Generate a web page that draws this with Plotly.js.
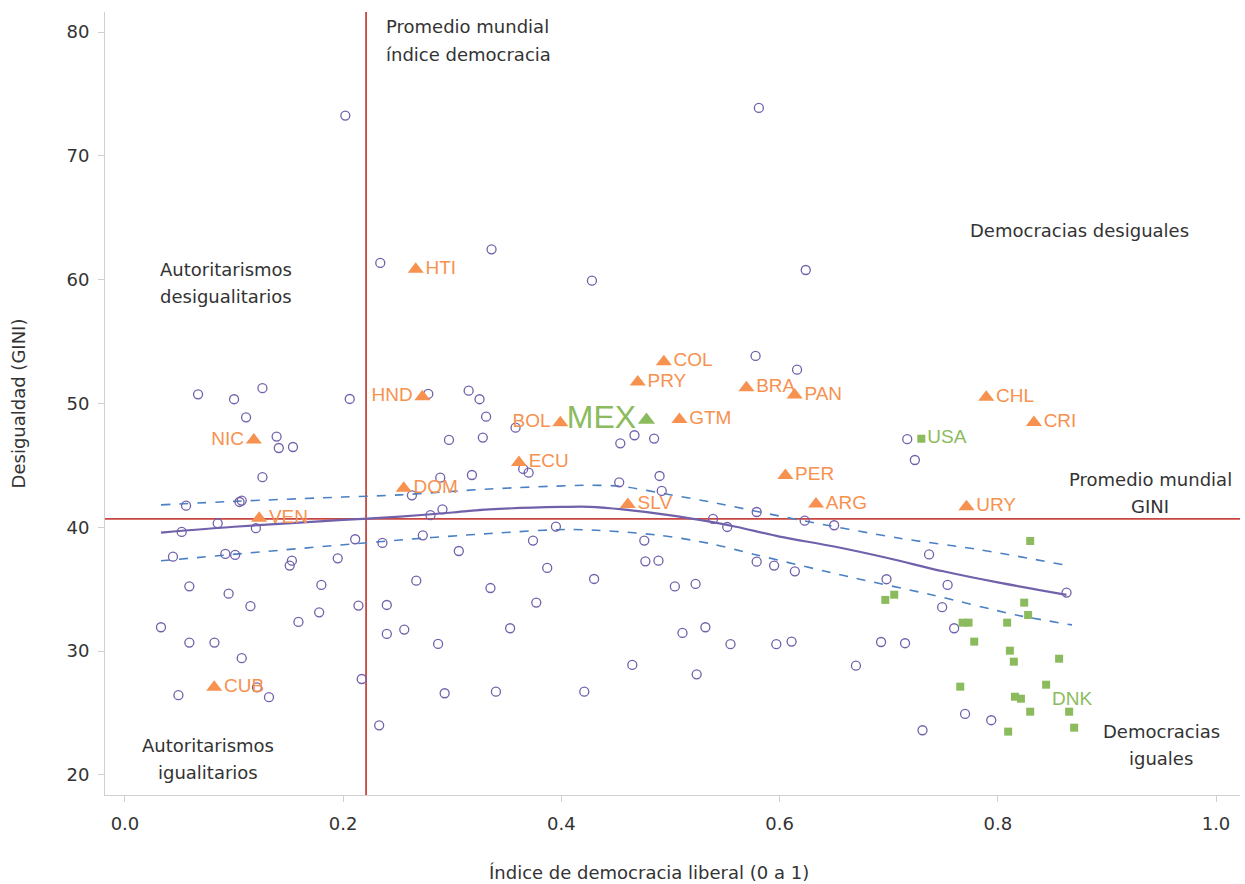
<!DOCTYPE html>
<html>
<head>
<meta charset="utf-8">
<script src="https://cdn.plot.ly/plotly-3.0.1.min.js"></script>
<style>html,body{margin:0;padding:0;background:#fff;}#chart{width:1245px;height:884px;}</style>
</head>
<body>
<div id="chart"></div>
<script>
// ---- Data: rest of the world (open circles) ----
const worldX = [0.067,0.100,0.126,0.206,0.111,0.139,0.141,0.154,0.126,0.056,0.105,0.107,0.085,0.052,0.120,0.044,0.092,0.101,0.211,0.236,0.153,0.151,0.195,0.059,0.095,0.180,0.115,0.178,0.214,0.240,0.159,0.033,0.059,0.082,0.240,0.107,0.217,0.121,0.132,0.049,0.233,
0.278,0.315,0.325,0.331,0.297,0.328,0.358,0.365,0.370,0.289,0.318,0.263,0.291,0.280,0.395,0.273,0.374,0.306,0.476,0.477,0.489,0.387,0.267,0.335,0.430,0.377,0.504,0.523,0.256,0.353,0.287,0.511,0.532,0.465,0.524,0.293,0.340,0.421,
0.202,0.234,0.336,0.428,0.581,0.624,
0.454,0.467,0.485,0.453,0.490,0.492,0.578,0.616,0.717,0.724,0.579,0.539,0.552,0.623,0.650,0.737,0.579,0.595,0.614,0.698,0.754,0.863,0.749,0.760,0.555,0.597,0.611,0.693,0.715,0.670,0.770,0.794,0.731];
const worldY = [50.75,50.35,51.24,50.37,48.89,47.33,46.41,46.49,44.05,41.75,42.05,42.16,40.33,39.63,39.93,37.63,37.85,37.77,39.04,38.74,37.31,36.91,37.50,35.24,34.64,35.35,33.63,33.14,33.68,33.73,32.36,31.93,30.69,30.69,31.39,29.43,27.75,27.08,26.28,26.44,24.01,
50.78,51.04,50.35,48.94,47.06,47.25,48.05,44.72,44.42,44.01,44.23,42.59,41.46,40.98,40.06,39.36,38.93,38.09,38.93,37.26,37.31,36.72,35.69,35.10,35.83,33.92,35.23,35.43,31.74,31.85,30.58,31.47,31.93,28.89,28.13,26.60,26.73,26.73,
73.26,61.36,62.46,59.93,73.88,60.79,
46.79,47.44,47.17,43.64,44.15,42.94,53.85,52.74,47.12,45.44,41.24,40.68,40.03,40.54,40.17,37.81,37.23,36.91,36.45,35.81,35.35,34.73,33.55,31.85,30.56,30.56,30.77,30.74,30.64,28.83,24.93,24.42,23.61];

// ---- Latin America (orange triangles) ----
const latCodes = ["HTI","HND","NIC","VEN","DOM","CUB","BOL","ECU","SLV","PRY","COL","GTM","BRA","PAN","PER","ARG","URY","CHL","CRI"];
const latX = [0.2665,0.2726,0.1181,0.1230,0.2555,0.0818,0.3990,0.3611,0.4609,0.4700,0.4939,0.5082,0.5696,0.6138,0.6053,0.6334,0.7713,0.7894,0.8331];
const latY = [60.85,50.56,47.06,40.73,43.16,27.08,48.46,45.23,41.85,51.74,53.38,48.72,51.28,50.69,44.18,41.89,41.67,50.50,48.48];
const latLabelSide = ["middle right","middle left","middle left","middle right","middle right","middle right","middle left","middle right","middle right","middle right","middle right","middle right","middle right","middle right","middle right","middle right","middle right","middle right","middle right"];

// ---- Mexico ----
const mexCode = ["MEX"];
const mexX = [0.478];
const mexY = [48.68];

// ---- Developed democracies (green squares) ----
const devCodes = ["USA","","","","","","","","","","","","","","DNK","","","","","",""];
const devX = [0.7299,0.8297,0.7051,0.6969,0.8242,0.8278,0.7677,0.7732,0.8086,0.7784,0.8111,0.8147,0.8562,0.7656,0.8443,0.8157,0.8212,0.8297,0.8654,0.8095,0.8700];
const devY = [47.16,38.90,34.56,34.14,33.92,32.92,32.30,32.30,32.30,30.77,30.04,29.15,29.39,27.13,27.29,26.32,26.16,25.11,25.11,23.50,23.82];
const devLabelSide = ["middle right","middle right","middle right","middle right","middle right","middle right","middle right","middle right","middle right","middle right","middle right","middle right","middle right","middle right","bottom right","middle right","middle right","middle right","middle right","middle right","middle right"];

// ---- Smoothed fit and confidence band ----
const fitX = [0.033,0.100,0.200,0.252,0.300,0.334,0.400,0.426,0.456,0.502,0.536,0.560,0.600,0.650,0.700,0.750,0.800,0.863];
const fitY = [39.58,40.05,40.60,40.86,41.20,41.45,41.65,41.66,41.45,40.95,40.46,40.05,39.25,38.45,37.50,36.45,35.55,34.55];
const upperX = [0.033,0.100,0.200,0.252,0.334,0.426,0.456,0.502,0.536,0.618,0.710,0.783,0.865];
const upperY = [41.82,42.10,42.45,42.62,43.10,43.40,43.30,42.60,42.06,40.60,39.12,38.20,36.90];
const lowerX = [0.033,0.252,0.334,0.410,0.487,0.536,0.579,0.664,0.740,0.817,0.868];
const lowerY = [37.30,38.98,39.50,39.83,39.39,38.70,37.77,36.00,34.54,32.92,32.12];

// ---- Reference lines ----
const avgDemocracy = 0.221;
const avgGini = 40.68;

// ---- Axis ticks ----
const xTicks = [0.0,0.2,0.4,0.6,0.8,1.0];
const xTickText = ["0.0","0.2","0.4","0.6","0.8","1.0"];
const yTicks = [20,30,40,50,60,70,80];

const ORANGE = "#F7914F";
const GREEN = "#8CBB5D";
const PURPLE = "#7160AA";
const BLUE = "#4A80C4";
const RED = "#C8463F";
const TXT = "#333333";
const SANS = "DejaVu Sans, Verdana, sans-serif";
const LAB = "Liberation Sans, Arial, sans-serif";

const traces = [
  {x: fitX, y: fitY, mode: "lines", line: {color: PURPLE, width: 2.2, shape: "spline", smoothing: 0.8}, hoverinfo: "skip"},
  {x: upperX, y: upperY, mode: "lines", line: {color: BLUE, width: 1.6, dash: "dash", shape: "spline", smoothing: 0.8}, hoverinfo: "skip"},
  {x: lowerX, y: lowerY, mode: "lines", line: {color: BLUE, width: 1.6, dash: "dash", shape: "spline", smoothing: 0.8}, hoverinfo: "skip"},
  {x: worldX, y: worldY, mode: "markers", marker: {symbol: "circle-open", size: 9, color: PURPLE, line: {width: 1.3, color: PURPLE}}},
  {x: devX, y: devY, mode: "markers+text", text: devCodes, textposition: devLabelSide,
   textfont: {family: LAB, size: 19, color: GREEN},
   marker: {symbol: "square", size: 8, color: GREEN}},
  {x: latX, y: latY, mode: "markers+text", text: latCodes, textposition: latLabelSide,
   textfont: {family: LAB, size: 19, color: ORANGE},
   marker: {symbol: "triangle-up", size: 14, color: ORANGE}},
  {x: mexX, y: mexY, mode: "markers+text", text: mexCode, textposition: "middle left",
   textfont: {family: LAB, size: 32, color: GREEN},
   marker: {symbol: "triangle-up", size: 15, color: GREEN}}
];

function note(text, x, y, anchor) {
  return {text: text, x: x, y: y, xref: "x", yref: "y", showarrow: false,
          xanchor: anchor || "center", yanchor: "middle",
          font: {family: SANS, size: 18, color: TXT}};
}

const layout = {
  width: 1245, height: 884,
  margin: {l: 105, r: 5, t: 12, b: 89},
  paper_bgcolor: "#fff", plot_bgcolor: "#fff",
  showlegend: false,
  font: {family: SANS, size: 18, color: TXT},
  xaxis: {
    range: [-0.0183, 1.022], tickvals: xTicks, ticktext: xTickText,
    showgrid: false, zeroline: false, showline: true, linecolor: "#d0d0d0", linewidth: 1,
    ticks: "outside", ticklen: 6, tickcolor: "#d0d0d0", ticklabelstandoff: 6,
    tickfont: {family: SANS, size: 18, color: TXT}
  },
  yaxis: {
    range: [18.38, 81.63], tickvals: yTicks,
    showgrid: false, zeroline: false, showline: true, linecolor: "#d0d0d0", linewidth: 1,
    ticks: "outside", ticklen: 6, tickcolor: "#d0d0d0", ticklabelstandoff: 5,
    tickfont: {family: SANS, size: 18, color: TXT},
    title: {text: "Desigualdad (GINI)", font: {family: SANS, size: 18, color: TXT}, standoff: 36}
  },
  shapes: [
    {type: "line", xref: "x", yref: "paper", x0: avgDemocracy, x1: avgDemocracy, y0: 0, y1: 1, line: {color: RED, width: 1.8}, layer: "below"},
    {type: "line", xref: "paper", yref: "y", x0: 0, x1: 1, y0: avgGini, y1: avgGini, line: {color: RED, width: 1.8}, layer: "below"}
  ],
  annotations: [
    {text: "Índice de democracia liberal (0 a 1)", x: 0.480, y: -0.0996, xref: "x", yref: "paper",
     showarrow: false, xanchor: "center", yanchor: "middle", font: {family: SANS, size: 18, color: TXT}},
    note("Promedio mundial", 0.237, 80.42, "left"),
    note("índice democracia", 0.237, 78.16, "left"),
    note("Autoritarismos", 0.0925, 60.79),
    note("desigualitarios", 0.0925, 58.61),
    note("Democracias desiguales", 0.8745, 63.97),
    note("Promedio mundial", 0.9396, 43.83),
    note("GINI", 0.9396, 41.65),
    note("Autoritarismos", 0.076, 22.34),
    note("igualitarios", 0.076, 20.16),
    note("Democracias", 0.9496, 23.55),
    note("iguales", 0.9496, 21.29)
  ]
};

Plotly.newPlot("chart", traces, layout, {displayModeBar: false, staticPlot: true});
</script>
</body>
</html>
